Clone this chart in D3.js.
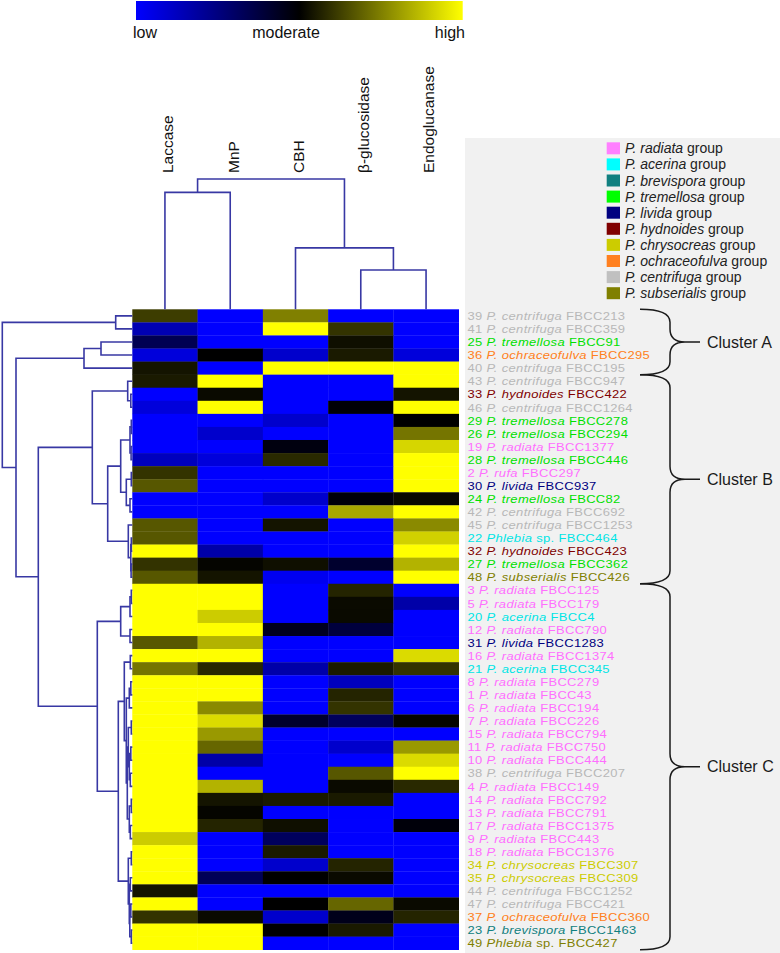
<!DOCTYPE html>
<html>
<head>
<meta charset="utf-8">
<script src="https://cdn.jsdelivr.net/npm/d3@7"></script>
<style>
body { margin: 0; background: #fff; }
svg { display: block; font-family: "Liberation Sans", Arial, sans-serif; }
</style>
</head>
<body>
<div class="chart"></div>
<script>
// columns and color key
var enzymes = ["Laccase", "MnP", "CBH", "β-glucosidase", "Endoglucanase"];
var scaleTicks = ["low", "moderate", "high"];

// rows, top to bottom
var strainNo = [39,41,25,36,40,43,33,46,29,26,19,28,2,30,24,42,45,22,32,27,48,3,5,20,12,31,16,21,8,1,6,7,15,11,10,38,4,14,13,17,9,18,34,35,44,47,37,23,49];
var species = ["P. centrifuga","P. centrifuga","P. tremellosa","P. ochraceofulva","P. centrifuga","P. centrifuga","P. hydnoides","P. centrifuga","P. tremellosa","P. tremellosa",
  "P. radiata","P. tremellosa","P. rufa","P. livida","P. tremellosa","P. centrifuga","P. centrifuga","Phlebia sp.","P. hydnoides","P. tremellosa",
  "P. subserialis","P. radiata","P. radiata","P. acerina","P. radiata","P. livida","P. radiata","P. acerina","P. radiata","P. radiata",
  "P. radiata","P. radiata","P. radiata","P. radiata","P. radiata","P. centrifuga","P. radiata","P. radiata","P. radiata","P. radiata",
  "P. radiata","P. radiata","P. chrysocreas","P. chrysocreas","P. centrifuga","P. centrifuga","P. ochraceofulva","P. brevispora","Phlebia sp."];
var strainId = [213,359,91,295,195,947,422,1264,278,294,1377,446,297,937,82,692,1253,464,423,362,426,125,179,4,790,1283,1374,345,279,43,194,226,794,750,444,207,149,792,791,1375,443,1376,307,309,1252,421,360,1463,427];
var rowGroup = [8,8,3,7,8,8,5,8,3,3, 0,3,0,4,3,8,8,1,5,3, 9,0,0,1,0,4,0,1,0,0, 0,0,0,0,0,8,0,0,0,0, 0,0,6,6,8,8,7,2,9];

// relative activity, 0 = low, 0.5 = moderate, 1 = high
var laccase = [0.62,0.15,0.34,0.07,0.54, 0.55,0,0.07,0,0, 0,0.13,0.6,0.67,0, 0,0.67,0.67,1,0.6, 0.67,1,1,1,1, 0.67,1,0.73,1,1, 1,1,1,1,1, 1,1,1,1,1, 0.9,1,1,1,0.54, 1,0.6,1,1];
var mnp = [0,0,0,0.5,0, 1,0.52,1,0,0.1, 0,0.07,0,0,0, 0,0,0,0.17,0.51, 0.54,1,1,0.9,1, 0.85,1,0.58,1,1, 0.77,0.93,0.8,0.7,0.17, 0,0.85,0.54,0.51,0.57, 0,0,0,0.33,0, 0,0.52,1,1];
var cbh = [0.75,1,0,0.1,1, 0,0,0,0.1,0, 0.47,0.58,0,0,0.1, 0,0.54,0,0,0.53, 0.03,0,0,0,0.44, 0,0,0.17,0,0, 0,0.41,0,0,0, 0,0,0.55,0,0.53, 0.32,0.55,0.1,0.5,0, 0.5,0.1,0.5,0];
var bGlucosidase = [0,0.6,0.53,0.55,1, 0,0,0.49,0,0, 0,0,0,0,0.48, 0.83,0,0,0,0.41, 0,0.57,0.52,0.52,0.38, 0,0,0.55,0.13,0.57, 0.6,0.32,0,0.1,0, 0.67,0.52,0.55,0,0, 0,0,0.57,0.52,0, 0.7,0.45,0.55,0];
var endoglucanase = [0,0,0,0.07,1, 1,0.54,1,0.5,0.73, 0.92,1,1,1,0.52, 1,0.77,0.91,1,0.85, 1,0,0.17,0,0, 0,0.93,0.6,0,0, 0,0.51,0,0.8,0.93, 1,0.58,0,0,0.48, 0,0,0,0,0, 0.52,0.57,0,0];

// groups (legend)
var groupNames = ["P. radiata","P. acerina","P. brevispora","P. tremellosa","P. livida","P. hydnoides","P. chrysocreas","P. ochraceofulva","P. centrifuga","P. subserialis"];
var groupSwatch = ["#ff80ff","#00ffff","#118080","#00ff00","#000080","#800000","#cccc00","#ff8020","#c0c0c0","#808000"];
var groupText = ["#ff6eff","#00e5e5","#108080","#00e000","#000080","#800000","#cccc00","#ff8020","#b8b8b8","#808000"];

// clusters (row index ranges)
var clusterNames = ["Cluster A","Cluster B","Cluster C"];
var clusterFirst = [0, 5, 21];
var clusterLast = [4, 20, 48];

// dendrograms: [height, left, right], leaves are indices
var colTree = [129.3, [116, 0, 1], [61, 2, [39, 3, 4]]];
var rowTree = [130,
  [16.6, 0, 1],
  [116.3,
    [48.3, [31.3, 2, 3], 4],
    [94,
      [40,
        [4.6, 5, [1.5, 6, 7]],
        [24.6,
          [11.6, [2.3, [1, 8, 9], [1.2, 10, 11]], [6, [1, 12, 13], [2.3, 14, 15]]],
          [4, 16, [1.5, [1, 17, 18], [1.2, 19, 20]]]]],
      [35,
        [11.6, [2.3, [1, 21, 22], 23], [2.3, 24, 25]],
        [14,
          [8, [2, 26, 27], [6, [3, [1.5, 28, 29], 30], [5, [4, [1, 31, 32], [3, [1.5, 33, 34], [2, 35, 36]]], [3, [1, 37, 38], [2, 39, 40]]]]],
          [4, [1, 41, 42], [3, [2, 43, 44], [2.5, [1.5, 45, 46], [1, 47, 48]]]]]]]]];

var svgWidth = 780, svgHeight = 953;
var heat = { left: 132.3, right: 458.7, top: 309.3, bottom: 949.7 };
var dendroColor = "#3838a4";

var svg = d3.select(".chart").append("svg")
  .attr("width", svgWidth)
  .attr("height", svgHeight);

var columns = [laccase, mnp, cbh, bGlucosidase, endoglucanase];
var rows = d3.range(strainNo.length);

var x = d3.scaleBand().domain(d3.range(enzymes.length)).range([heat.left, heat.right]);
var y = d3.scaleBand().domain(rows).range([heat.top, heat.bottom]);
var color = d3.scaleLinear().domain([0, 0.5, 1]).range(["#0000ff", "#000000", "#ffff00"]);

// grey panel behind labels and legend
svg.append("rect")
  .attr("x", 465).attr("y", 138)
  .attr("width", svgWidth - 465).attr("height", svgHeight - 138)
  .attr("fill", "#f1f1f1");

// colour key
var grad = svg.append("defs").append("linearGradient").attr("id", "key");
grad.selectAll("stop").data([0, 0.5, 1]).enter().append("stop")
  .attr("offset", d => d * 100 + "%")
  .attr("stop-color", d => color(d));
svg.append("rect")
  .attr("x", 136).attr("y", 1).attr("width", 326.7).attr("height", 19)
  .attr("fill", "url(#key)");
var keyX = d3.scalePoint().domain(scaleTicks).range([133, 465]);
svg.selectAll(".keyLabel").data(scaleTicks).enter().append("text")
  .attr("x", (d, i) => i == 1 ? 286 : keyX(d))
  .attr("y", 38)
  .attr("text-anchor", (d, i) => ["start", "middle", "end"][i])
  .attr("font-size", 16)
  .attr("fill", "#111")
  .text(d => d);

// heatmap cells
var cells = [];
rows.forEach(function(r) {
  columns.forEach(function(col, c) { cells.push({ r: r, c: c, v: col[r] }); });
});
svg.append("g").selectAll("rect").data(cells).enter().append("rect")
  .attr("x", d => x(d.c))
  .attr("y", d => y(d.r))
  .attr("width", x.bandwidth() + 0.3)
  .attr("height", y.bandwidth() + 0.3)
  .attr("fill", d => color(d.v));

// column labels
svg.selectAll(".colLabel").data(enzymes).enter().append("text")
  .attr("transform", (d, i) => `translate(${x(i) + x.bandwidth() / 2 + 3}, 173) rotate(-90)`)
  .attr("dy", "0.35em")
  .attr("font-size", 15.5)
  .attr("fill", "#111")
  .text(d => d);

// dendrograms
function layout(tree, leafPos) {
  var root = d3.hierarchy(tree, d => Array.isArray(d) ? d.slice(1) : null);
  root.eachAfter(function(n) {
    if (n.children) { n.pos = d3.mean(n.children, c => c.pos); n.h = n.data[0]; }
    else { n.pos = leafPos(n.data); n.h = 0; }
  });
  return root;
}

var hx = d3.scaleLinear().domain([0, 130]).range([heat.left, 2.3]);
var rowRoot = layout(rowTree, i => y(i) + y.bandwidth() / 2);
svg.append("g").selectAll("path")
  .data(rowRoot.descendants().filter(n => n.children))
  .enter().append("path")
  .attr("d", function(n) {
    var a = n.children[0], b = n.children[1];
    return `M${hx(a.h)},${a.pos}H${hx(n.h)}V${b.pos}H${hx(b.h)}`;
  })
  .attr("fill", "none")
  .attr("stroke", dendroColor)
  .attr("stroke-width", 1.6);

var hy = d3.scaleLinear().domain([0, 129.3]).range([heat.top, 179]);
var colRoot = layout(colTree, i => x(i) + x.bandwidth() / 2);
svg.append("g").selectAll("path")
  .data(colRoot.descendants().filter(n => n.children))
  .enter().append("path")
  .attr("d", function(n) {
    var a = n.children[0], b = n.children[1];
    return `M${a.pos},${hy(a.h)}V${hy(n.h)}H${b.pos}V${hy(b.h)}`;
  })
  .attr("fill", "none")
  .attr("stroke", dendroColor)
  .attr("stroke-width", 1.6);

// row labels (slightly widened so the line boxes stay within one row)
var labels = svg.append("g").selectAll("text").data(rows).enter().append("text")
  .attr("transform", d => `translate(467.5, ${y(d) + y.bandwidth() / 2}) scale(1.12, 1)`)
  .attr("dy", "0.36em")
  .attr("font-size", 11.6)
  .attr("letter-spacing", 0.3)
  .attr("fill", d => groupText[rowGroup[d]]);
labels.append("tspan").text(d => strainNo[d] + " ");
labels.append("tspan").attr("font-style", "italic")
  .text(d => species[d].replace(" sp.", ""));
labels.append("tspan")
  .text(d => (species[d].indexOf(" sp.") > 0 ? " sp." : "") + " FBCC" + strainId[d]);

// legend
var legend = svg.append("g").selectAll("g").data(groupNames).enter().append("g")
  .attr("transform", (d, i) => `translate(0, ${148.3 + 16.1 * i})`);
legend.append("rect")
  .attr("x", 606.7).attr("y", -6).attr("width", 13.3).attr("height", 12)
  .attr("fill", (d, i) => groupSwatch[i]);
var legendText = legend.append("text")
  .attr("x", 625).attr("dy", "0.36em")
  .attr("font-size", 14)
  .attr("fill", "#222");
legendText.append("tspan").attr("font-style", "italic").text(d => d);
legendText.append("tspan").text(" group");

// cluster braces
var braces = svg.append("g").selectAll("g").data(clusterNames).enter().append("g");
braces.append("path")
  .attr("d", function(d, i) {
    var top = y(clusterFirst[i]), bot = y(clusterLast[i]) + y.bandwidth(), mid = (top + bot) / 2;
    var x0 = 640, xs = 670, xt = 700, r = 13;
    return `M${x0},${top}Q${xs},${top} ${xs},${top + r}V${mid - r}Q${xs},${mid} ${xs + 15},${mid}H${xt}` +
      `M${xt},${mid}H${xs + 15}Q${xs},${mid} ${xs},${mid + r}V${bot - r}Q${xs},${bot} ${x0},${bot}`;
  })
  .attr("fill", "none")
  .attr("stroke", "#1a1a1a")
  .attr("stroke-width", 1.5);
braces.append("text")
  .attr("x", 707)
  .attr("y", (d, i) => (y(clusterFirst[i]) + y(clusterLast[i]) + y.bandwidth()) / 2)
  .attr("dy", "0.35em")
  .attr("font-size", 16)
  .attr("fill", "#1a1a1a")
  .text(d => d);
</script>
</body>
</html>
